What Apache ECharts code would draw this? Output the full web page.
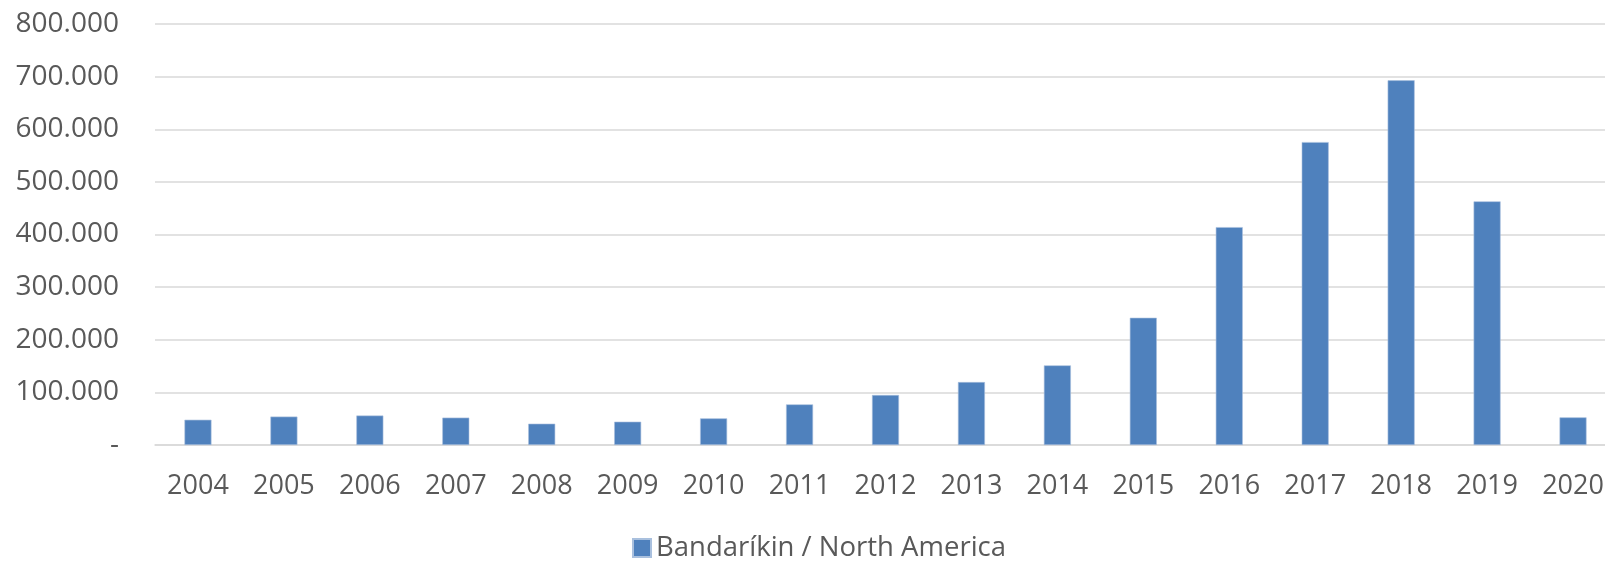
<!DOCTYPE html>
<html>
<head>
<meta charset="utf-8">
<script src="https://cdn.jsdelivr.net/npm/echarts@6/dist/echarts.min.js"></script>
<style>
html,body{margin:0;padding:0;background:#fff;}
#chart{width:1605px;height:563px;}
</style>
</head>
<body>
<div id="chart"></div>
<script>
const categories = ['2004','2005','2006','2007','2008','2009','2010','2011','2012','2013','2014','2015','2016','2017','2018','2019','2020'];
const seriesName = 'Bandaríkin / North America';
const values = [48000, 54000, 56000, 52000, 40500, 44300, 50600, 77200, 95000, 119600, 151300, 241800, 414000, 575600, 693000, 463000, 52500];
const yTicks = [0, 100000, 200000, 300000, 400000, 500000, 600000, 700000, 800000];

function fmt(v){
  if (v === 0) return '-';
  return String(v).replace(/\B(?=(\d{3})+(?!\d))/g, '.');
}

const chart = echarts.init(document.getElementById('chart'));
const font = '"Open Sans", "Liberation Sans", sans-serif';
chart.setOption({
  animation: false,
  backgroundColor: '#ffffff',
  grid: { left: 155, right: -11, top: 24, bottom: 118, containLabel: false, outerBoundsMode: 'none' },
  legend: {
    data: [seriesName],
    left: 627, top: 529,
    itemWidth: 18, itemHeight: 18,
    icon: 'rect',
    textStyle: { fontFamily: font, fontSize: 27.5, color: '#595959' },
    itemGap: 8
  },
  xAxis: {
    type: 'category',
    data: categories,
    axisLine: { show: true, lineStyle: { color: '#D9D9D9', width: 1.5 } },
    axisTick: { show: false },
    axisLabel: { fontFamily: font, fontSize: 27, color: '#595959', margin: 28 }
  },
  yAxis: {
    type: 'value',
    min: yTicks[0], max: yTicks[yTicks.length-1], interval: yTicks[1]-yTicks[0],
    axisLine: { show: false },
    axisTick: { show: false },
    splitLine: { lineStyle: { color: '#D9D9D9', width: 1.5 } },
    axisLabel: { fontFamily: font, fontSize: 28, color: '#595959', margin: 36, formatter: fmt }
  },
  series: [{
    name: seriesName,
    type: 'bar',
    data: values,
    barWidth: 27,
    itemStyle: { color: '#4F81BD', borderColor: '#A9C0DE', borderWidth: 0.6 }
  }]
});
</script>
</body>
</html>
